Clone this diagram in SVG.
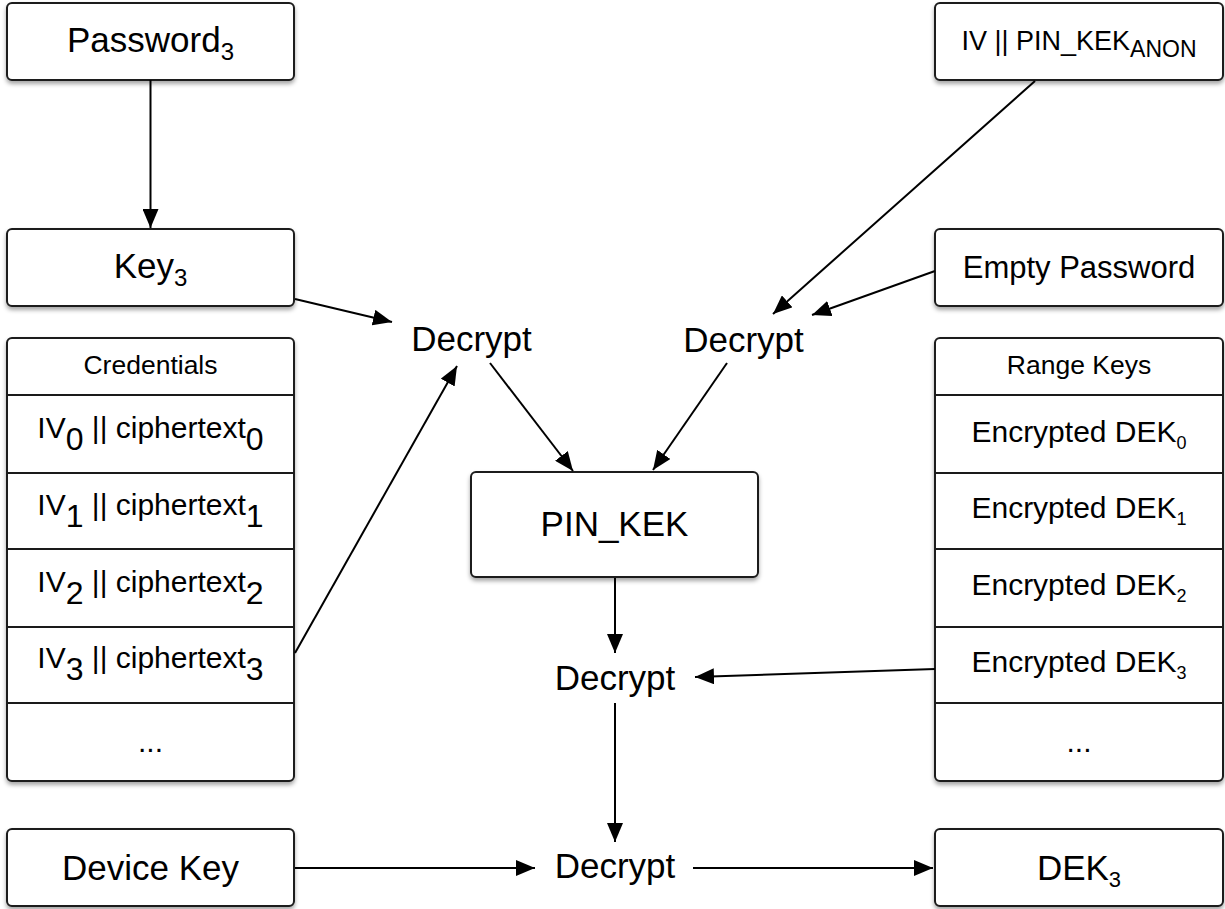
<svg xmlns="http://www.w3.org/2000/svg" width="1225" height="909" viewBox="0 0 1225 909">
<style>
.box{fill:#fff;stroke:#1a1a1a;stroke-width:2;filter:url(#sh)}
.sep{stroke:#1a1a1a;stroke-width:2;fill:none}
.t{font-family:"Liberation Sans",Arial,sans-serif;fill:#000;text-anchor:middle}
.big{font-size:35px}
.mid{font-size:30px}
.hdr{font-size:26.5px}
.conn line{stroke:#000;stroke-width:2;marker-end:url(#ah)}
</style>
<defs>
<filter id="sh" x="-10%" y="-10%" width="120%" height="130%">
<feDropShadow dx="0" dy="3" stdDeviation="2" flood-color="#000" flood-opacity="0.35"/>
</filter>
<marker id="ah" markerUnits="userSpaceOnUse" markerWidth="20" markerHeight="16" refX="19" refY="8" orient="auto">
<path d="M0,0 L19,8 L0,16 z" fill="#000"/>
</marker>
</defs>
<rect width="1225" height="909" fill="#fff"/>

<g id="password3">
<rect class="box" x="7" y="3" width="287" height="77" rx="5"/>
<text class="t big" x="150.5" y="52">Password<tspan font-size="24" dy="8">3</tspan></text>
</g>
<g id="key3">
<rect class="box" x="7" y="229" width="287" height="77" rx="5"/>
<text class="t big" x="150.5" y="278">Key<tspan font-size="24" dy="8">3</tspan></text>
</g>
<g id="credentials">
<rect class="box" x="7" y="338" width="287" height="443" rx="5"/>
<line class="sep" x1="7" y1="395" x2="294" y2="395"/>
<line class="sep" x1="7" y1="473" x2="294" y2="473"/>
<line class="sep" x1="7" y1="549" x2="294" y2="549"/>
<line class="sep" x1="7" y1="627" x2="294" y2="627"/>
<line class="sep" x1="7" y1="703" x2="294" y2="703"/>
<text class="t hdr" x="150.5" y="374">Credentials</text>
<text class="t mid" x="150.5" y="438">IV<tspan font-size="32" dy="12">0</tspan><tspan dy="-12"> || ciphertext</tspan><tspan font-size="32" dy="12">0</tspan></text>
<text class="t mid" x="150.5" y="515">IV<tspan font-size="32" dy="12">1</tspan><tspan dy="-12"> || ciphertext</tspan><tspan font-size="32" dy="12">1</tspan></text>
<text class="t mid" x="150.5" y="592">IV<tspan font-size="32" dy="12">2</tspan><tspan dy="-12"> || ciphertext</tspan><tspan font-size="32" dy="12">2</tspan></text>
<text class="t mid" x="150.5" y="668">IV<tspan font-size="32" dy="12">3</tspan><tspan dy="-12"> || ciphertext</tspan><tspan font-size="32" dy="12">3</tspan></text>
<text class="t mid" x="150.5" y="752">...</text>
</g>
<g id="device-key">
<rect class="box" x="7" y="829" width="287" height="77" rx="5"/>
<text class="t big" x="150.5" y="880">Device Key</text>
</g>

<g id="iv-pin-kek-anon">
<rect class="box" x="935" y="3" width="288" height="77" rx="5"/>
<text class="t" font-size="27" x="1079" y="50">IV || PIN_KEK<tspan font-size="23" dy="7">ANON</tspan></text>
</g>
<g id="empty-password">
<rect class="box" x="935" y="229" width="288" height="77" rx="5"/>
<text class="t" font-size="31" x="1079" y="278">Empty Password</text>
</g>
<g id="range-keys">
<rect class="box" x="935" y="338" width="288" height="443" rx="5"/>
<line class="sep" x1="935" y1="395" x2="1223" y2="395"/>
<line class="sep" x1="935" y1="473" x2="1223" y2="473"/>
<line class="sep" x1="935" y1="549" x2="1223" y2="549"/>
<line class="sep" x1="935" y1="627" x2="1223" y2="627"/>
<line class="sep" x1="935" y1="703" x2="1223" y2="703"/>
<text class="t hdr" x="1079" y="374">Range Keys</text>
<text class="t mid" x="1079" y="442">Encrypted DEK<tspan font-size="18" dy="7">0</tspan></text>
<text class="t mid" x="1079" y="518">Encrypted DEK<tspan font-size="18" dy="7">1</tspan></text>
<text class="t mid" x="1079" y="595">Encrypted DEK<tspan font-size="18" dy="7">2</tspan></text>
<text class="t mid" x="1079" y="672">Encrypted DEK<tspan font-size="18" dy="7">3</tspan></text>
<text class="t mid" x="1079" y="752">...</text>
</g>
<g id="dek3">
<rect class="box" x="935" y="829" width="288" height="77" rx="5"/>
<text class="t big" x="1079" y="880">DEK<tspan font-size="22" dy="7">3</tspan></text>
</g>

<g id="pin-kek">
<rect class="box" x="471" y="472" width="287" height="105" rx="5"/>
<text class="t big" x="614.5" y="536">PIN_KEK</text>
</g>

<g id="decrypt1"><text class="t big" x="471.5" y="351">Decrypt</text></g>
<g id="decrypt2"><text class="t big" x="743.5" y="352">Decrypt</text></g>
<g id="decrypt3"><text class="t big" x="615" y="690">Decrypt</text></g>
<g id="decrypt4"><text class="t big" x="615" y="878">Decrypt</text></g>

<g id="connectors" class="conn">
<line x1="150.5" y1="80" x2="150.5" y2="228"/>
<line x1="295" y1="299" x2="392" y2="322"/>
<line x1="295" y1="653" x2="457" y2="366"/>
<line x1="1035" y1="81" x2="773" y2="314"/>
<line x1="935" y1="271" x2="812" y2="315"/>
<line x1="490" y1="363" x2="573" y2="471"/>
<line x1="727" y1="363" x2="653" y2="470"/>
<line x1="615" y1="578" x2="615" y2="653"/>
<line x1="935" y1="669" x2="695" y2="677"/>
<line x1="615" y1="703" x2="615" y2="842"/>
<line x1="295" y1="868" x2="535" y2="868"/>
<line x1="693" y1="868" x2="933" y2="868"/>
</g>
</svg>
